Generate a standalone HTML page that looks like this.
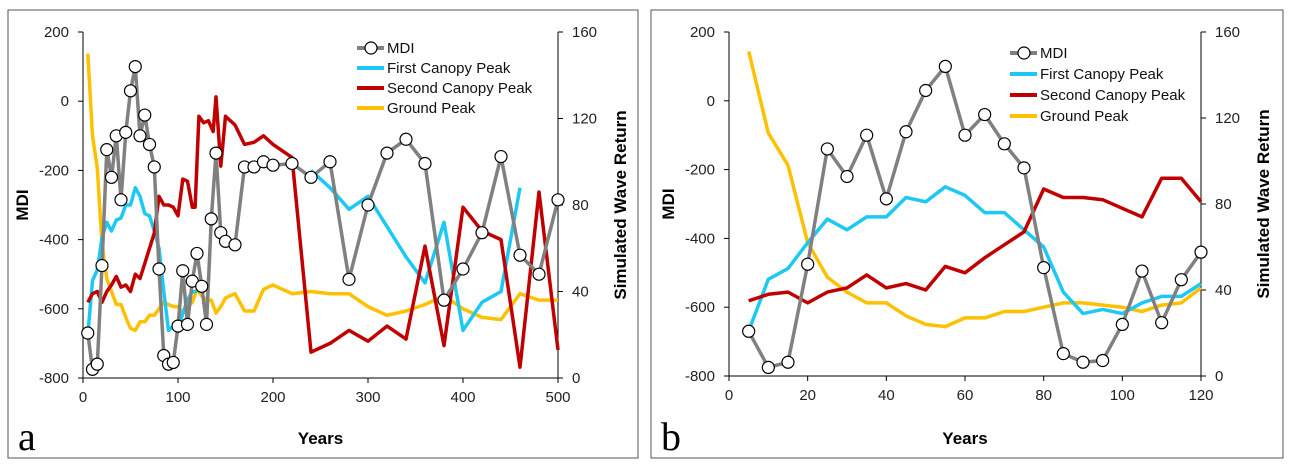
<!DOCTYPE html>
<html><head><meta charset="utf-8"><style>
body{margin:0;background:#fff;width:1293px;height:470px;overflow:hidden;font-family:"Liberation Sans",sans-serif}
svg{position:absolute;left:0;top:0}
</style></head><body>
<svg id="c" width="1293" height="470"></svg>
<script>
const aX=[5,10,15,20,25,30,35,40,45,50,55,60,65,70,75,80,85,90,95,100,105,110,115,120,125,130,135,140,145,150,160,170,180,190,200,220,240,260,280,300,320,340,360,380,400,420,440,460,480,500];
const aMDI=[-670,-775,-760,-475,-140,-220,-100,-285,-90,30,100,-100,-40,-125,-190,-485,-735,-760,-755,-650,-490,-645,-520,-440,-535,-645,-340,-150,-380,-405,-415,-190,-190,-175,-185,-180,-220,-175,-515,-300,-150,-110,-180,-575,-485,-380,-160,-445,-500,-285];
const aFirstX=[5,10,15,20,25,30,35,40,45,50,55,60,65,70,75,80,85,90,95,100,105,110,115,120,null,240,260,280,300,320,340,360,380,400,420,440,460];
const aFirst=[20,45,50,65,72,68,73,74,80,80,88,84,76,75,68,60,40,22,24,22,30,36,40,40,null,96,88,78,84,70,56,44,72,22,35,40,88];
const aSecondX=[5,10,15,20,25,30,35,40,45,50,55,60,65,70,75,80,85,90,95,100,105,110,115,118,122,127,132,137,140,145,150,155,160,170,180,190,200,220,240,260,280,300,320,340,360,380,400,420,440,460,480,500];
const aSecond=[35,39,40,35,40,43,47,42,43,40,48,46,53,60,67,84,80,80,79,75,92,91,79,79,121,118,119,114,130,98,121,119,117,108,109,112,108,102,12,16,22,17,24,18,61,15,79,68,64,5,86,13];
const aGround=[150,112,97,62,46,40,34,34,28,23,22,26,26,29,29,32,35,34,33,33,30,33,35,41,38,36,36,30,33,37,39,31,31,41,43,39,40,39,39,33,29,31,34,38,32,28,27,39,36,36];
const bX=[5,10,15,20,25,30,35,40,45,50,55,60,65,70,75,80,85,90,95,100,105,110,115,120];
const bMDI=[-670,-775,-760,-475,-140,-220,-100,-285,-90,30,100,-100,-40,-125,-195,-485,-735,-760,-755,-650,-495,-645,-520,-440];
const bFirst=[21,45,50,62,73,68,74,74,83,81,88,84,76,76,68,60,39,29,31,29,34,37,37,43];
const bSecond=[35,38,39,34,39,41,47,41,43,40,51,48,55,61,67,87,83,83,82,78,74,92,92,81];
const bGround=[151,113,98,62,46,39,34,34,28,24,23,27,27,30,30,32,34,34,33,32,30,33,34,41];
const aTicks=[0,100,200,300,400,500], bTicks=[0,20,40,60,80,100,120];
const yTicks=[200,0,-200,-400,-600,-800], rTicks=[160,120,80,40,0];

const svg=document.getElementById('c');
const NS='http://www.w3.org/2000/svg';
function mk(t,at,txt){const e=document.createElementNS(NS,t);for(const k in at)e.setAttribute(k,at[k]);if(txt!=null)e.textContent=txt;svg.appendChild(e);return e;}

function panel(p){
  const fr=mk('rect',{x:p.fx,y:10,width:p.fw,height:448,fill:'none',stroke:'#555','stroke-width':1});
  
  const X=v=>p.L+(v-p.xmin)/(p.xmax-p.xmin)*(p.R-p.L);
  const Y=v=>p.B-(v+800)/1000*(p.B-p.T);
  const Y2=v=>p.B-v/160*(p.B-p.T);
  let e=mk('line',{x1:p.L,y1:p.T,x2:p.L,y2:p.B,stroke:'#000'});
  e=mk('line',{x1:p.R,y1:p.T,x2:p.R,y2:p.B,stroke:'#000'});
  e=mk('line',{x1:p.L,y1:p.B,x2:p.R,y2:p.B,stroke:'#000'});
  p.ticks.forEach(t=>{mk('line',{x1:X(t),y1:p.B,x2:X(t),y2:p.B+5,stroke:'#000'});
    e=mk('text',{x:X(t),y:p.B+24,'text-anchor':'middle','font-size':15,fill:'#222'},t);});
  yTicks.forEach(t=>{mk('line',{x1:p.L-5,y1:Y(t),x2:p.L,y2:Y(t),stroke:'#000'});
    e=mk('text',{x:p.L-14,y:Y(t)+5,'text-anchor':'end','font-size':15,fill:'#222'},t);});
  rTicks.forEach(t=>{mk('line',{x1:p.R,y1:Y2(t),x2:p.R+5,y2:Y2(t),stroke:'#000'});
    e=mk('text',{x:p.R+14,y:Y2(t)+5,'font-size':15,fill:'#222'},t);});
  e=mk('text',{x:(p.L+p.R)/2,y:444,'text-anchor':'middle','font-size':17,'font-weight':'bold'},'Years');
  e=mk('text',{x:0,y:0,transform:`translate(${p.L-55},${(p.T+p.B)/2}) rotate(-90)`,'text-anchor':'middle','font-size':17,'font-weight':'bold'},'MDI');
  e=mk('text',{x:0,y:0,transform:`translate(${p.R+68},${(p.T+p.B)/2}) rotate(-90)`,'text-anchor':'middle','font-size':17,'font-weight':'bold'},'Simulated Wave Return');
  e=mk('text',{x:p.fx+10,y:450,'font-family':'Liberation Serif, serif','font-size':40},p.id);
  function path(xs,ys,f){let d='',pen=false;xs.forEach((x,i)=>{if(x==null||ys[i]==null){pen=false;return;}d+=(pen?'L':'M')+X(x).toFixed(1)+','+f(ys[i]).toFixed(1);pen=true;});return d;}
  e=mk('path',{d:path(p.gx,p.ground,Y2),fill:'none',stroke:'#FFC000','stroke-width':3.5,'stroke-linejoin':'round'});
  e=mk('path',{d:path(p.fxs,p.first,Y2),fill:'none',stroke:'#1EC8F4','stroke-width':3.5,'stroke-linejoin':'round'});
  e=mk('path',{d:path(p.sx,p.second,Y2),fill:'none',stroke:'#C00000','stroke-width':3.5,'stroke-linejoin':'round'});
  e=mk('path',{d:path(p.mx,p.mdi,Y),fill:'none',stroke:'#808080','stroke-width':3.5,'stroke-linejoin':'round'});
  p.mx.forEach((x,i)=>{const c=mk('circle',{cx:X(x),cy:Y(p.mdi[i]),r:6,fill:'#fff',stroke:'#000','stroke-width':1.2});
    
    });
  const leg=[['MDI','#808080'],['First Canopy Peak','#1EC8F4'],['Second Canopy Peak','#C00000'],['Ground Peak','#FFC000']];
  leg.forEach((l,i)=>{const y=p.ly+i*p.ld;
    mk('line',{x1:p.lx,y1:y,x2:p.lx+27,y2:y,stroke:l[1],'stroke-width':4});
    if(i==0)mk('circle',{cx:p.lx+14,cy:y,r:6,fill:'#fff',stroke:'#000','stroke-width':1.2});
    const t=mk('text',{x:p.lx+30,y:y+5,'font-size':15,fill:'#111'},l[0]);
    
    });
}
panel({id:'a',fx:8,fw:630,L:83,R:558,T:32,B:378,xmin:0,xmax:500,ticks:aTicks,mx:aX,mdi:aMDI,fxs:aFirstX,first:aFirst,sx:aSecondX,second:aSecond,gx:aX,ground:aGround,lx:357,ly:48,ld:20});
panel({id:'b',fx:651,fw:632,L:729,R:1201,T:32,B:376,xmin:0,xmax:120,ticks:bTicks,mx:bX,mdi:bMDI,fxs:bX,first:bFirst,sx:bX,second:bSecond,gx:bX,ground:bGround,lx:1010,ly:53,ld:21});
</script>
</body></html>
